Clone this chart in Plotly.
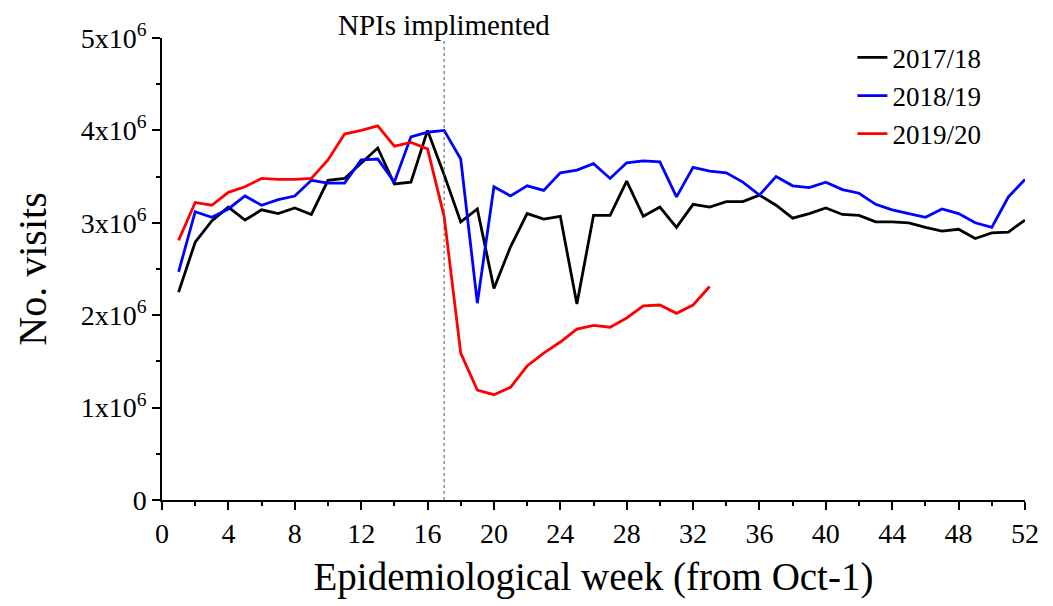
import plotly.graph_objects as go

weeks = list(range(1, 53))
v2017 = [2.25, 2.79, 3.02, 3.17, 3.03, 3.14, 3.10, 3.16, 3.09, 3.46,
         3.48, 3.65, 3.81, 3.42, 3.44, 4.00, 3.52, 3.01, 3.15, 2.29,
         2.74, 3.10, 3.04, 3.07, 2.12, 3.08, 3.08, 3.45, 3.07, 3.17,
         2.95, 3.20, 3.17, 3.23, 3.23, 3.30, 3.19, 3.05, 3.10, 3.16,
         3.09, 3.08, 3.01, 3.01, 3.00, 2.95, 2.91, 2.93, 2.83, 2.89,
         2.90, 3.03]
v2018 = [2.47, 3.12, 3.06, 3.15, 3.29, 3.19, 3.25, 3.29, 3.46, 3.43,
         3.43, 3.68, 3.69, 3.44, 3.93, 3.98, 4.00, 3.69, 2.13, 3.39,
         3.29, 3.40, 3.35, 3.54, 3.57, 3.64, 3.48, 3.65, 3.67, 3.66,
         3.28, 3.60, 3.56, 3.54, 3.44, 3.30, 3.50, 3.40, 3.38, 3.44,
         3.36, 3.32, 3.20, 3.14, 3.10, 3.06, 3.15, 3.10, 3.00, 2.95,
         3.28, 3.47]
v2019 = [2.81, 3.22, 3.19, 3.33, 3.39, 3.48, 3.47, 3.47, 3.48, 3.68,
         3.96, 4.00, 4.05, 3.83, 3.87, 3.80, 3.07, 1.59, 1.19, 1.14,
         1.22, 1.45, 1.59, 1.71, 1.85, 1.89, 1.87, 1.97, 2.10, 2.11,
         2.02, 2.11, 2.31]
series_names = ["2017/18", "2018/19", "2019/20"]
series_colors = ["black", "#0000ff", "#ff0000"]
y_tickvals = [0, 1e6, 2e6, 3e6, 4e6, 5e6]
y_ticktext = ["0", "1x10<sup>6</sup>", "2x10<sup>6</sup>", "3x10<sup>6</sup>",
              "4x10<sup>6</sup>", "5x10<sup>6</sup>"]
x_tickvals = list(range(0, 53, 4))
npi_week = 17

FONT = "Liberation Serif, Times New Roman, serif"

fig = go.Figure()
for name, vals, col in zip(series_names, [v2017, v2018, v2019], series_colors):
    fig.add_trace(go.Scatter(
        x=weeks[:len(vals)], y=[v * 1e6 for v in vals], mode="lines",
        name=name, line=dict(color=col, width=2.8)))

fig.add_shape(type="line", x0=npi_week, x1=npi_week, xref="x",
              y0=0, y1=0.995, yref="paper",
              line=dict(color="#555555", width=1, dash="dot"))
fig.add_annotation(x=npi_week, xref="x", y=1.0, yref="paper", yshift=30,
                   text="NPIs implimented", showarrow=False,
                   xanchor="center", yanchor="top", borderpad=0,
                   font=dict(family=FONT, size=29, color="black"))

fig.update_layout(
    width=1053, height=606,
    margin=dict(l=154, r=36, t=30, b=114, autoexpand=False),
    paper_bgcolor="white", plot_bgcolor="white",
    font=dict(family=FONT, color="black"),
    showlegend=True,
    legend=dict(x=0.800, y=1.01, xanchor="left", yanchor="top",
                font=dict(family=FONT, size=27, color="black"),
                bgcolor="rgba(0,0,0,0)", tracegroupgap=0),
    xaxis=dict(range=[0, 52], tickvals=x_tickvals, showgrid=False,
               zeroline=False, showline=True, linecolor="black", linewidth=1.5,
               ticks="outside", ticklen=8, tickwidth=1.5, tickcolor="black",
               tickfont=dict(family=FONT, size=28), automargin=False,
               minor=dict(dtick=2, ticks="outside", ticklen=4, tickwidth=1.5,
                          tickcolor="black", showgrid=False),
               title=dict(text="Epidemiological week (from Oct-1)",
                          font=dict(family=FONT, size=39), standoff=14)),
    yaxis=dict(range=[0, 5e6], tickvals=y_tickvals, ticktext=y_ticktext,
               showgrid=False, zeroline=False, showline=True, linecolor="black",
               linewidth=1.5, ticks="outside", ticklen=8, tickwidth=1.5,
               tickcolor="black", tickfont=dict(family=FONT, size=28),
               automargin=False,
               minor=dict(dtick=0.5e6, ticks="outside", ticklen=4, tickwidth=1.5,
                          tickcolor="black", showgrid=False),
               title=dict(text="No. visits", font=dict(family=FONT, size=40),
                          standoff=22)),
)

fig.write_html("out.html")
